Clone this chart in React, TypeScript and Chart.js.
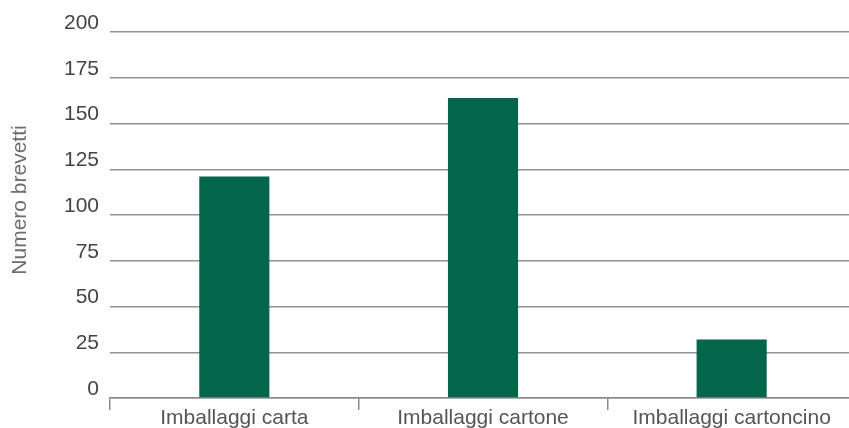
import React, { useEffect, useRef } from "react";
import { Chart, registerables } from "chart.js";

Chart.register(...registerables);

// Patent counts per packaging type
const categories = ["Imballaggi carta", "Imballaggi cartone", "Imballaggi cartoncino"];
const brevetti = [121, 164, 32];
const yMin = 0;
const yMax = 200;
const yStep = 25;
const yTitle = "Numero brevetti";

const FONT = "'Liberation Sans', Arial, Helvetica, sans-serif";

// Vertical axis caption, drawn a little above the middle of the plot area
const axisCaption = {
  id: "axisCaption",
  afterDraw(chart: any) {
    const { ctx, chartArea } = chart;
    const cy = (chartArea.top + chartArea.bottom) / 2 - 15;
    ctx.save();
    ctx.translate(20, cy);
    ctx.rotate(-Math.PI / 2);
    ctx.font = `21px ${FONT}`;
    ctx.fillStyle = "#6e6e6e";
    ctx.textAlign = "center";
    ctx.textBaseline = "middle";
    ctx.fillText(yTitle, 0, 0);
    ctx.restore();
  },
};

export default function App() {
  const canvasRef = useRef<HTMLCanvasElement | null>(null);

  useEffect(() => {
    const canvas = canvasRef.current;
    if (!canvas) return;
    const chart = new Chart(canvas, {
      type: "bar",
      data: {
        labels: categories,
        datasets: [
          {
            data: brevetti,
            backgroundColor: "#03654a",
            borderWidth: 0,
            barPercentage: 0.282,
            categoryPercentage: 1,
          },
        ],
      },
      options: {
        animation: false,
        responsive: false,
        devicePixelRatio: 1,
        layout: { padding: { top: 32, right: 0, bottom: 0, left: 0 } },
        plugins: {
          legend: { display: false },
          tooltip: { enabled: false },
        },
        scales: {
          x: {
            offset: true,
            grid: {
              display: true,
              drawOnChartArea: false,
              drawTicks: true,
              tickLength: 12,
              color: "#8a8a8a",
              lineWidth: 1.5,
              offset: true,
            },
            border: { display: true, color: "#8a8a8a", width: 1.5 },
            ticks: {
              font: { family: FONT, size: 21 },
              color: "#555555",
              padding: -4,
              maxRotation: 0,
              autoSkip: false,
            },
            afterFit: (s: any) => {
              s.height = 30;
            },
          },
          y: {
            min: yMin,
            max: yMax,
            ticks: {
              stepSize: yStep,
              padding: 11,
              labelOffset: -9,
              font: { family: FONT, size: 21 },
              color: "#444444",
            },
            grid: {
              color: "#929292",
              lineWidth: 1.5,
              drawTicks: false,
            },
            border: { display: false },
            afterFit: (s: any) => {
              s.width = 110;
            },
          },
        },
      },
      plugins: [axisCaption],
    });
    return () => chart.destroy();
  }, []);

  return (
    <div
      style={{
        position: "fixed",
        left: 0,
        top: 0,
        width: 849,
        height: 428,
        overflow: "hidden",
        background: "#ffffff",
      }}
    >
      <canvas ref={canvasRef} width={856} height={428} style={{ display: "block" }} />
    </div>
  );
}
